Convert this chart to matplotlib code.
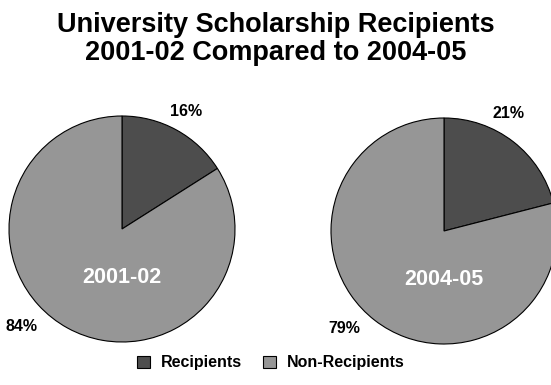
import numpy as np
import matplotlib
matplotlib.use('Agg')
import matplotlib.pyplot as plt

# data
years = ['2001-02', '2004-05']
categories = ['Recipients', 'Non-Recipients']
recipients = [16, 21]
non_recipients = [84, 79]

colors = ['#4d4d4d', '#969696']

plt.rcParams['font.family'] = ['Liberation Sans', 'DejaVu Sans']
plt.rcParams['font.weight'] = 'bold'

W, H = 551, 385
fig = plt.figure(figsize=(W / 100, H / 100), dpi=100)

fig.text(0.5, 1 - 39 / H, 'University Scholarship Recipients\n2001-02 Compared to 2004-05',
         ha='center', va='center', fontsize=19.5, fontweight='bold', linespacing=1.15)

# pie centres / radius in pixels
centres = [(122, 229), (444, 231)]
rad = 113

wedges_all = []
for i, yr in enumerate(years):
    cx, cy = centres[i]
    ax = fig.add_axes([(cx - rad) / W, (H - cy - rad) / H, 2 * rad / W, 2 * rad / H])
    vals = [recipients[i], non_recipients[i]]
    wedges, _ = ax.pie(vals, colors=colors, startangle=90, counterclock=False,
                       wedgeprops=dict(edgecolor='black', linewidth=0.8))
    ax.set_xlim(-1, 1)
    ax.set_ylim(-1, 1)
    ax.set_aspect('auto')
    ax.axis('off')
    for w in wedges:
        w.set_clip_on(False)
    wedges_all.append(wedges)

    # percentage labels, placed like the Excel original
    ax.text(0.57, 1.04, '%d%%' % recipients[i], ha='center', va='center',
            fontsize=11.5, fontweight='bold', clip_on=False)
    ax.text(-0.885, -0.86, '%d%%' % non_recipients[i], ha='center', va='center',
            fontsize=11.5, fontweight='bold', clip_on=False)
    ax.text(0, -0.43, yr, ha='center', va='center', color='white',
            fontsize=15.5, fontweight='bold')

fig.legend(wedges_all[0], categories, loc='center', bbox_to_anchor=(271 / W, 1 - 363 / H),
           ncol=2, frameon=False, handlelength=0.8, handleheight=0.8,
           handletextpad=0.7, columnspacing=1.3, prop={'weight': 'bold', 'size': 11.5})

fig.savefig('out.png', dpi=100)
